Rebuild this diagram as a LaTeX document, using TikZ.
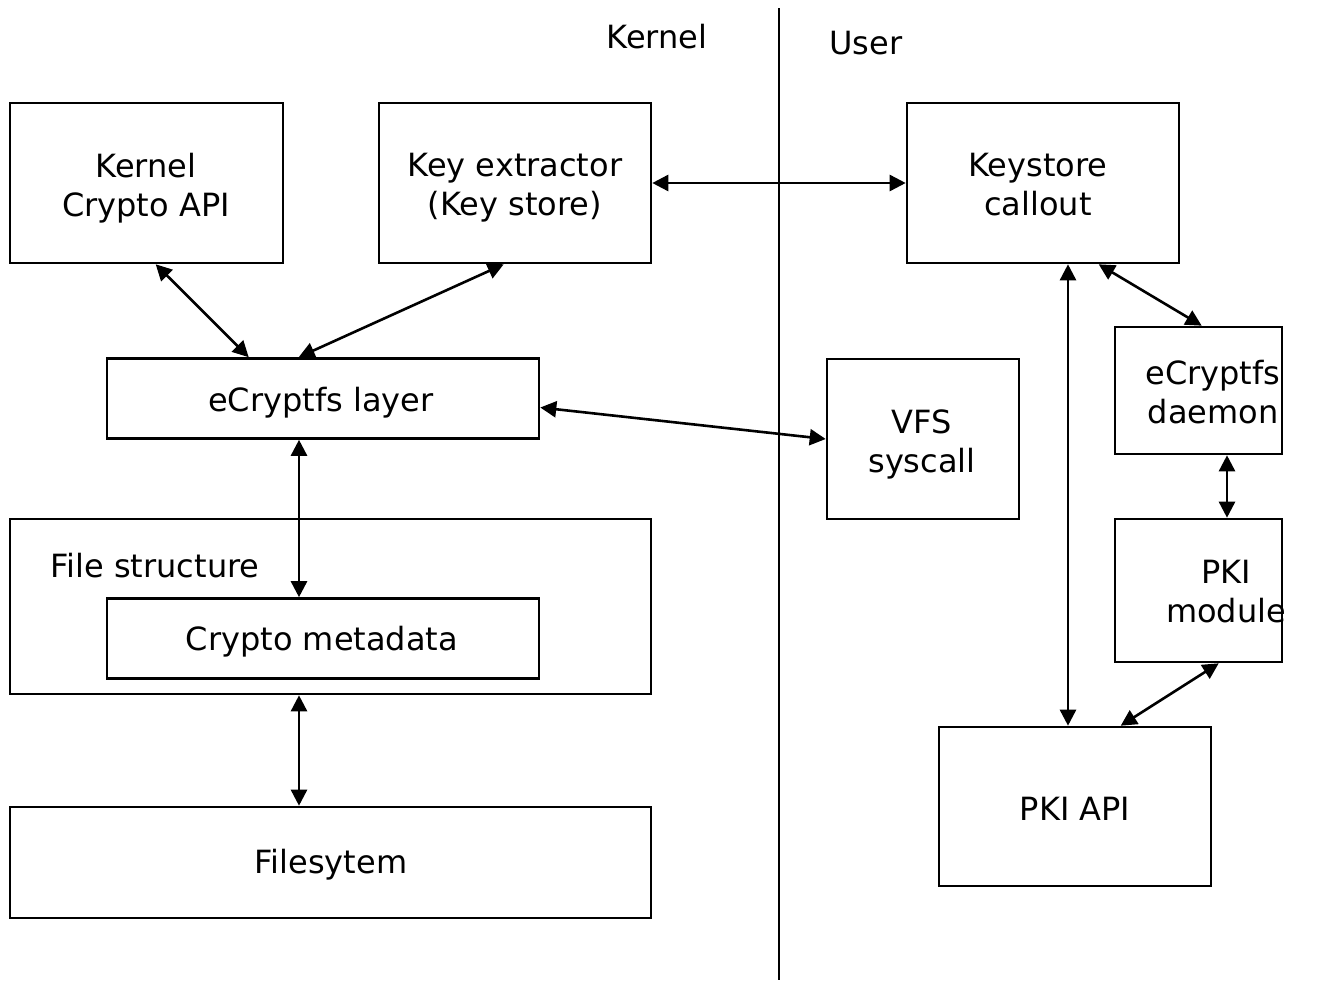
\documentclass[tikz,border=0pt]{standalone}
\usepackage{fontspec}
\setmainfont{DejaVu Sans}
\usetikzlibrary{arrows.meta}
\begin{document}
\begin{tikzpicture}[x=1pt,y=-1pt,
  every node/.style={font=\fontsize{32}{39}\selectfont, align=center},
  box/.style={draw, line width=2.6pt, inner sep=0pt},
  arr/.style={line width=2.6pt, {Triangle[length=16pt,width=16pt]}-{Triangle[length=16pt,width=16pt]}}]
\useasboundingbox (0,0) rectangle (1328,980);
% divider
\draw[line width=1.8pt] (779,8) coordinate (dtop) -- (779,980) coordinate (dbot);
\node (klab) at (657,37) {Kernel};
\node (ulab) at (866,43) {User};
% boxes
\node[box, minimum width=273, minimum height=160] (kca) at (146.5,183) {};
\node (kcat) at (146,188) {Kernel\\Crypto API};
\node[box, minimum width=272, minimum height=160] (kex) at (515,183) {};
\node (kext) at (515,188) {Key extractor\\(Key store)};
\node[box, minimum width=272, minimum height=160] (ksc) at (1043,183) {};
\node (ksct) at (1038,185) {Keystore\\callout};
\node[box, minimum width=432, minimum height=80] (ecl) at (323,398.5) {};
\node (eclt) at (321,403) {eCryptfs layer};
\node[box, minimum width=192, minimum height=160] (vfs) at (923,439) {};
\node (vfst) at (922,444) {VFS\\syscall};
\node[box, minimum width=167, minimum height=127] (dmn) at (1198.5,390.5) {};
\node (dmnt) at (1213,392) {eCryptfs\\daemon};
\node[box, minimum width=641, minimum height=175] (fst) at (330.5,606.5) {};
\node[anchor=base west] (fstt) at (47,577) {File structure};
\node[box, minimum width=432, minimum height=80] (cmd) at (323,638.5) {};
\node (cmdt) at (322,642) {Crypto metadata};
\node[box, minimum width=167, minimum height=143] (pkm) at (1198.5,590.5) {};
\node (pkmt) at (1226,592) {PKI\\module};
\node[box, minimum width=272, minimum height=159] (pka) at (1075,806.5) {};
\node (pkat) at (1075,808.5) {PKI API};
\node[box, minimum width=641, minimum height=111] (fsy) at (330.5,862.5) {};
\node (fsyt) at (331,865) {Filesytem};
% arrows
\draw[arr] ([xshift=147pt]kca.south west) -- ([xshift=143pt]ecl.north west);
\draw[arr] ([xshift=126pt]kex.south west) -- ([xshift=193pt]ecl.north west);
\draw[arr] (kex.east) -- (ksc.west);
\draw[arr] ([yshift=-9pt]ecl.east) -- ([yshift=0pt]vfs.west);
\draw[arr] (ecl.south -| 299,0) -- (cmd.north -| 299,0);
\draw[arr] (fst.south -| 299,0) -- (fsy.north -| 299,0);
\draw[arr] ([xshift=193pt]ksc.south west) -- ([xshift=88pt]dmn.north west);
\draw[arr] (ksc.south -| 1068,0) -- (pka.north -| 1068,0);
\draw[arr] (dmn.south -| 1227,0) -- (pkm.north -| 1227,0);
\draw[arr] ([xshift=105pt]pkm.south west) -- ([xshift=183pt]pka.north west);
\end{tikzpicture}
\end{document}
